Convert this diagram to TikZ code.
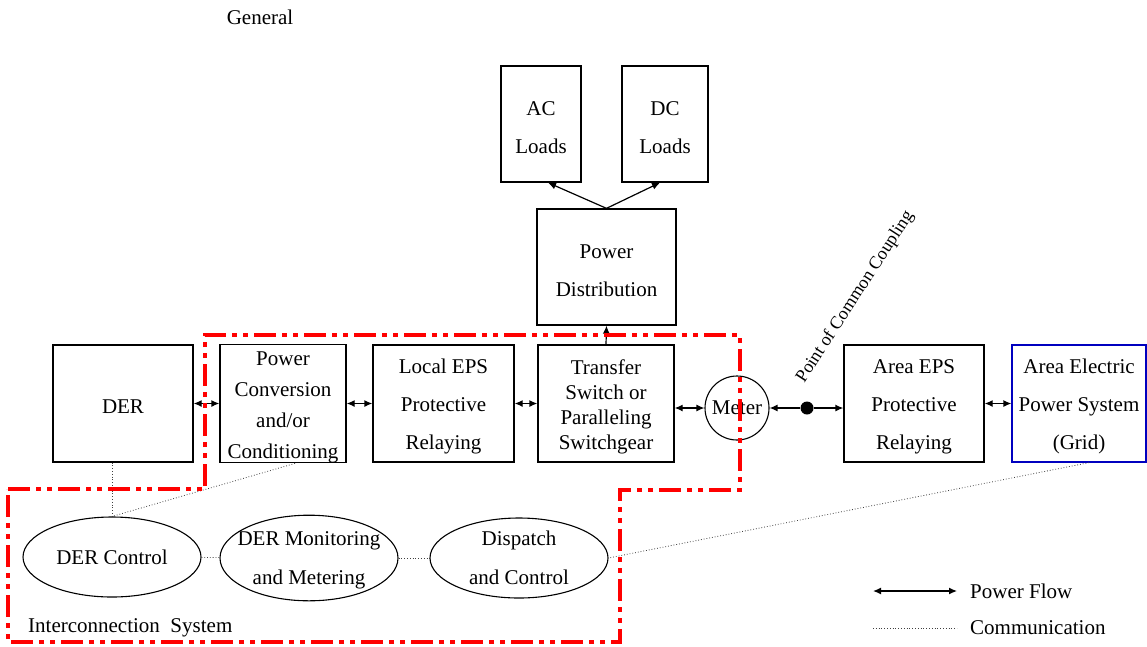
\documentclass[tikz,border=0pt]{standalone}
\usepackage{fontspec}
\setmainfont{Liberation Serif}
\usetikzlibrary{arrows.meta,shapes.geometric}
\newcommand{\tstrut}{\rule{0pt}{21pt}}

\begin{document}
\begin{tikzpicture}[x=1pt,y=-1pt,
  box/.style={draw,line width=1.3pt,inner sep=0pt,align=center,
    font=\fontsize{21}{38}\selectfont},
  oval/.style={draw,ellipse,line width=1.1pt,minimum width=178pt,
    minimum height=80pt,inner xsep=-14pt,inner ysep=-1pt,align=center,
    font=\fontsize{21}{39}\selectfont},
  pf/.style={{Latex[length=8pt,width=7pt]}-{Latex[length=8pt,width=7pt]},
    line width=1.3pt},
  tip/.style={-{Latex[length=8pt,width=7pt]},line width=1.2pt},
  comm/.style={dotted,line width=0.8pt,black!75},
  ies/.style={red,line width=3.5pt,
    dash pattern=on 22pt off 6pt on 5pt off 6pt on 5pt off 6pt}]
\useasboundingbox (0,0) rectangle (1147,646);
\fontsize{21}{25}\selectfont

\node (GEN) at (260,17) {General};

% loads and distribution
\node[box,minimum width=80pt,minimum height=116pt] (AC) at (541,124) {\tstrut AC\\Loads};
\node[box,minimum width=86pt,minimum height=116pt] (DC) at (665,124) {\tstrut DC\\Loads};
\node[box,minimum width=139pt,minimum height=116pt] (PD) at (606.5,267) {\tstrut Power\\Distribution};

% main power path
\node[box,minimum width=140pt,minimum height=117pt] (DER) at (123,403.5) {\tstrut DER};
\node[box,minimum width=126pt,minimum height=117pt,
  font=\fontsize{21}{31}\selectfont] (PC) at (283,403.5)
  {\tstrut Power\\Conversion\\and/or\\Conditioning};
\node[box,minimum width=141pt,minimum height=117pt] (LE) at (443.5,403.5)
  {\tstrut Local EPS\\Protective\\Relaying};
\node[box,minimum width=136pt,minimum height=117pt,
  font=\fontsize{21}{25}\selectfont] (TS) at (606,403.5)
  {\tstrut Transfer\\Switch or\\Paralleling\\Switchgear};
\node[draw,circle,line width=1.1pt,minimum size=64pt,inner sep=0pt] (MT) at (737,408) {Meter};
\node[circle,fill,minimum size=13pt,inner sep=0pt] (PCC) at (807,408) {};
\node[rotate=57,anchor=south west,inner sep=1pt,
  font=\fontsize{18}{20}\selectfont] (PCCL) at (808,387) {Point of Common Coupling};
\node[box,minimum width=140pt,minimum height=117pt] (AE) at (914,403.5)
  {\tstrut Area EPS\\Protective\\Relaying};
\node[box,draw=blue!75!black,minimum width=134pt,minimum height=117pt] (GR) at (1079,403.5)
  {\tstrut Area Electric\\Power System\\(Grid)};

% control side
\node[oval] (C1) at (112,557) {DER Control};
\node[oval] (DM) at (309,558) {\rule{0pt}{19pt}DER Monitoring\\and Metering};
\node[oval] (DP) at (519,558) {Dispatch\\and Control};
\node[anchor=west] (IS) at (21,628) {Interconnection\ \ System};

\draw[pf] (DER) -- (PC);
\draw[pf] (PC) -- (LE);
\draw[pf] (LE) -- (TS);
\draw[pf] (TS.east |- MT) -- (MT.west);
\draw[tip,line width=1.3pt] (PCC) -- (MT.east);
\draw[tip,line width=1.3pt] (PCC) -- (AE.west |- PCC);
\draw[pf] (AE) -- (GR);

\draw[tip] (TS.north) -- (PD.south);
\draw[tip] (PD.north) -- ([xshift=7pt]AC.south);
\draw[tip] (PD.north) -- ([xshift=-5pt]DC.south);

\draw[comm] (C1.north |- DER.south) -- (C1.north);
\draw[comm] ([xshift=12pt]PC.south) -- (C1.north);
\draw[comm] (C1) -- (DM);
\draw[comm] (DM) -- (DP);
\draw[comm] ([xshift=10pt]GR.south) -- (DP.east);

% legend
\coordinate (PF1) at (873,591);
\coordinate (PF2) at (957,591);
\coordinate (CM1) at (873,628);
\coordinate (CM2) at (957,628);
\draw[pf] (PF1) -- (PF2);
\draw[comm] (CM1) -- (CM2);
\node[anchor=west] (PFL) at (963,591) {Power Flow};
\node[anchor=west] (CML) at (963,628) {Communication};

% interconnection system boundary
\draw[ies] (8,489) -- (205,489) -- (205,335) -- (740,335) -- (740,490)
  -- (620,490) -- (620,642) -- (8,642) -- cycle;
\end{tikzpicture}
\end{document}
